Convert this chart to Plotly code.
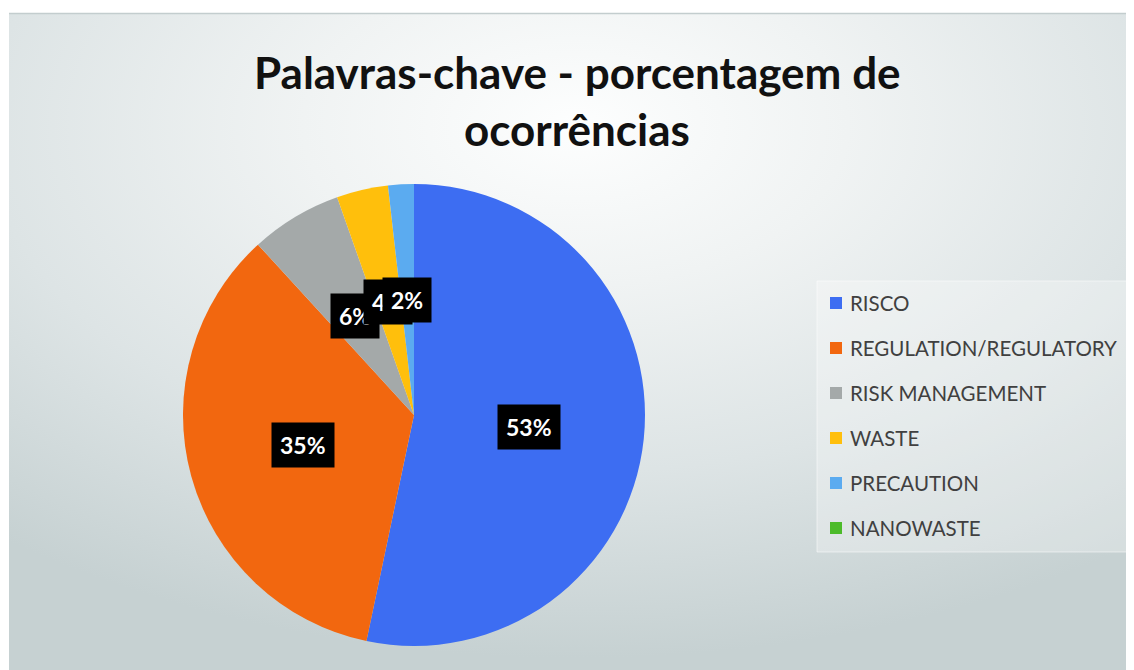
import base64
import math
import plotly.graph_objects as go

# ---- data ----
labels = ["RISCO", "REGULATION/REGULATORY", "RISK MANAGEMENT", "WASTE", "PRECAUTION", "NANOWASTE"]
values = [53.3, 34.9, 6.4, 3.6, 1.8, 0]
colors = ["#3D6DF2", "#F2670F", "#A4A9A9", "#FFBF0C", "#5BABF0", "#4CBB2A"]
title_lines = ["Palavras-chave - porcentagem de", "ocorrências"]

W, H = 1134, 670
OFF = 8  # browser body margin
# pie geometry (page pixels)
cx, cy, R = 414, 415, 231


def px(x):
    return (x - OFF) / W


def py(y):
    return 1 - (y - OFF) / H


# background radial gradient as an SVG image
svg = (
    "<svg xmlns='http://www.w3.org/2000/svg' width='1125' height='665' preserveAspectRatio='none'>"
    "<defs><radialGradient id='g' cx='0.5' cy='0.17' r='0.8'>"
    "<stop offset='0' stop-color='#fdfefe'/>"
    "<stop offset='0.3' stop-color='#f0f3f3'/>"
    "<stop offset='0.65' stop-color='#dde4e5'/>"
    "<stop offset='1' stop-color='#c6d1d2'/>"
    "</radialGradient></defs>"
    "<rect width='1125' height='665' fill='url(#g)'/></svg>"
)
bg_src = "data:image/svg+xml;base64," + base64.b64encode(svg.encode()).decode()

fig = go.Figure(
    go.Pie(
        labels=labels,
        values=values,
        marker=dict(colors=colors, line=dict(width=0)),
        sort=False,
        direction="clockwise",
        rotation=0,
        textinfo="none",
        showlegend=False,
        hoverinfo="label+percent",
        domain=dict(x=[px(cx - R), px(cx + R)], y=[py(cy + R), py(cy - R)]),
    )
)

annotations = []
# title
for line, yc in zip(title_lines, [72, 129]):
    annotations.append(dict(text="<b>" + line + "</b>", x=px(577), y=py(yc), xref="paper", yref="paper",
                            showarrow=False, xanchor="center", yanchor="middle",
                            font=dict(family="Lato", size=44, color="#111111")))

# data labels computed from slice mid-angles
total = sum(values)
cum = 0
for lab, v in zip(labels, values):
    if v > 0:
        mid = (cum + v / 2) / total * 2 * math.pi
        lx = cx + 0.5 * R * math.sin(mid)
        ly = cy - 0.5 * R * math.cos(mid)
        annotations.append(dict(text="<b>%d%%</b>" % round(v / total * 100), x=px(lx), y=py(ly),
                                xref="paper", yref="paper", showarrow=False,
                                xanchor="center", yanchor="middle",
                                font=dict(family="Lato", size=23, color="white"),
                                bgcolor="black", borderpad=8))
    cum += v

shapes = []
# legend box
shapes.append(dict(type="rect", xref="paper", yref="paper", x0=px(817), x1=px(1127), y0=py(552), y1=py(281),
                   fillcolor="rgba(255,255,255,0.28)", line=dict(color="rgba(255,255,255,0.5)", width=1),
                   layer="below"))
# top edge line of chart area
shapes.append(dict(type="line", xref="paper", yref="paper", x0=px(9), x1=1, y0=py(13.5), y1=py(13.5),
                   line=dict(color="#c3cdce", width=1.5), layer="below"))

# manual legend
for i, (lab, col) in enumerate(zip(labels, colors)):
    yc = 303 + i * 45
    shapes.append(dict(type="rect", xref="paper", yref="paper", x0=px(830), x1=px(842),
                       y0=py(yc + 6), y1=py(yc - 6), fillcolor=col, line=dict(width=0)))
    annotations.append(dict(text=lab, x=px(848), y=py(yc), xref="paper", yref="paper", showarrow=False,
                            xanchor="left", yanchor="middle",
                            font=dict(family="Lato", size=20.5, color="#404040")))

fig.update_layout(
    width=W,
    height=H,
    margin=dict(l=0, r=0, t=0, b=0),
    paper_bgcolor="white",
    plot_bgcolor="rgba(0,0,0,0)",
    showlegend=False,
    annotations=annotations,
    shapes=shapes,
    images=[dict(source=bg_src, xref="paper", yref="paper", x=px(9), y=py(13), sizex=1 - px(9),
                 sizey=py(13), xanchor="left", yanchor="top", sizing="stretch", layer="below")],
)

fig.write_html("out.html")
